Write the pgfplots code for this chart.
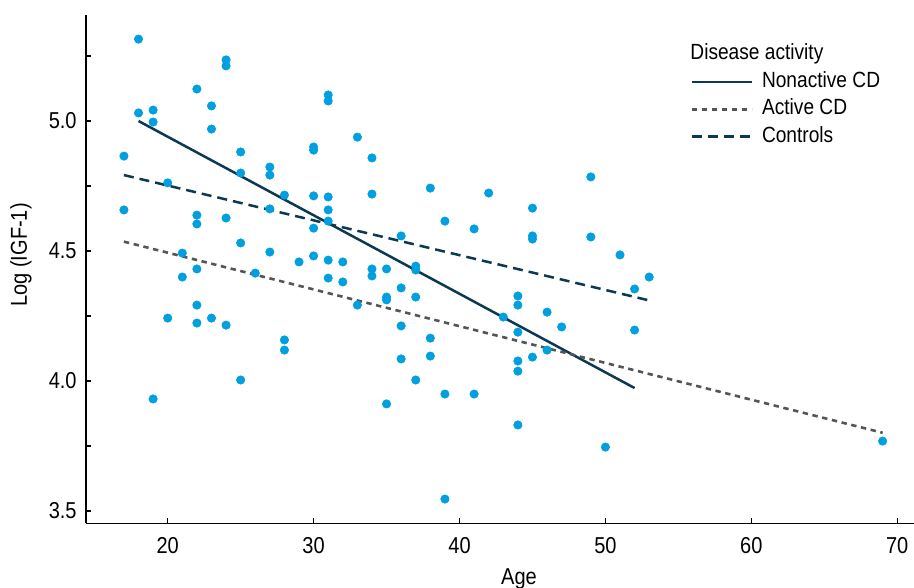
\documentclass[border=0pt]{standalone}
\usepackage{fontspec}
\setmainfont[FakeStretch=0.87]{Liberation Sans}
\usepackage{pgfplots}
\pgfplotsset{compat=1.18}
\definecolor{ptblue}{RGB}{0,160,224}
\definecolor{navy}{RGB}{12,56,82}
\definecolor{dgray}{RGB}{85,85,85}
\begin{document}
\begin{tikzpicture}
\begin{axis}[
  at={(0,0)}, anchor=south west,
  scale only axis, width=414pt, height=254.17pt,
  xmin=14.40, xmax=71.15, ymin=3.4527, ymax=5.4077,
  axis x line=bottom, axis y line=left,
  axis line style={-, line width=0.8pt, black},
  xtick={20,30,40,50,60,70},
  ytick={3.5,4.0,4.5,5.0},
  minor ytick={3.75,4.25,4.75,5.25},
  yticklabels={3.5,4.0,4.5,5.0},
  tick align=inside,
  major tick length=2.6pt, minor tick length=2.6pt,
  tick style={line width=0.7pt, black},
  /pgf/number format/assume math mode=true,
  tick label style={font=\fontsize{11.5}{13}\selectfont},
  xticklabel style={anchor=base, inner sep=0pt, yshift=-14.85pt},
  yticklabel style={anchor=east, inner sep=0pt, xshift=-4.5pt},
  xlabel={Age}, ylabel={Log (IGF-1)},
  label style={font=\fontsize{11.5}{13}\selectfont},
  xlabel style={at={(axis description cs:0.523,-0.1194)}, anchor=base, inner sep=0pt},
  ylabel style={at={(axis description cs:-0.0785,0.528)}, anchor=center, inner sep=0pt},
  legend image code/.code={\draw[#1] (0pt,2.85pt) -- (30pt,2.85pt);},
  legend cell align=left,
  legend style={draw=none, fill=none, at={(axis description cs:0.7295,0.8892)}, anchor=north west,
    inner sep=0pt, row sep=3.1pt, column sep=4.5pt,
    font=\fontsize{11}{13}\selectfont,
    nodes={inner sep=0pt, text height=8pt, text depth=2.5pt, anchor=base west}},
  clip=false,
]
\addplot[only marks, mark=*, mark size=2.1pt, draw=ptblue, fill=ptblue, mark options={solid, draw=ptblue, fill=ptblue, line width=0.3pt}, forget plot] coordinates {
(17,4.865) (17,4.658) (18,5.315) (18,5.031) (19,5.042) (19,4.996) (19,3.931)
(20,4.762) (20,4.242) (21,4.492) (21,4.400)
(22,5.123) (22,4.638) (22,4.604) (22,4.431) (22,4.292) (22,4.223)
(23,5.058) (23,4.969) (23,4.242)
(24,5.235) (24,5.212) (24,4.627) (24,4.215)
(25,4.881) (25,4.800) (25,4.531) (25,4.004)
(26,4.415)
(27,4.823) (27,4.792) (27,4.662) (27,4.496)
(28,4.715) (28,4.158) (28,4.119)
(29,4.458)
(30,4.900) (30,4.888) (30,4.712) (30,4.588) (30,4.481)
(31,5.100) (31,5.077) (31,4.708) (31,4.658) (31,4.615) (31,4.465) (31,4.396)
(32,4.458) (32,4.381)
(33,4.938) (33,4.292)
(34,4.858) (34,4.719) (34,4.431) (34,4.404)
(35,4.431) (35,4.323) (35,4.312) (35,3.912)
(36,4.558) (36,4.358) (36,4.212) (36,4.085)
(37,4.442) (37,4.427) (37,4.323) (37,4.004)
(38,4.742) (38,4.165) (38,4.096)
(39,4.615) (39,3.950) (39,3.546)
(41,4.585) (41,3.950)
(42,4.723)
(43,4.246)
(44,4.327) (44,4.292) (44,4.188) (44,4.077) (44,4.038) (44,3.831)
(45,4.665) (45,4.558) (45,4.546) (45,4.092)
(46,4.265) (46,4.119)
(47,4.208)
(49,4.785) (49,4.554)
(50,3.746)
(51,4.485)
(52,4.354) (52,4.196)
(53,4.400)
(69,3.769)
};
\addplot[navy, line width=1.25pt] coordinates {(18,5.000) (52,3.973)};
\addlegendentry{Nonactive CD}
\addplot[dgray, line width=1.3pt, dash pattern=on 2.7pt off 2.3pt] coordinates {(17,4.536) (69,3.801)};
\addlegendentry{Active CD}
\addplot[navy, line width=1.25pt, dash pattern=on 5pt off 3pt] coordinates {(17,4.792) (53,4.310)};
\addlegendentry{Controls}
\node[anchor=base west, inner sep=0pt, font=\fontsize{11}{13}\selectfont] at (rel axis cs:0.7295,0.9115) {Disease activity};
\end{axis}
\pgfresetboundingbox
\path[use as bounding box] (-43pt,-31.85pt) rectangle (414pt,261.67pt);
\end{tikzpicture}
\end{document}
